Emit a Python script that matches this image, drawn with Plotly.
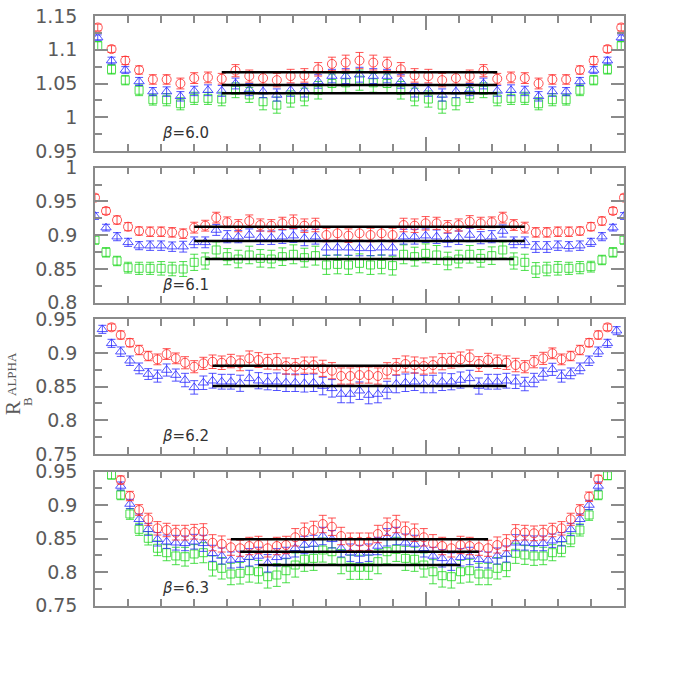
import plotly.graph_objects as go

# ---------------- data ----------------
# panel 1: beta=6.0  (T=48)
T1 = 48
t1 = list(range(0, 39))
p1_red = [1.133,1.101,1.084,1.070,1.056,1.056,1.050,1.058,1.059,1.057,1.069,1.061,1.058,1.055,1.061,1.062,1.071,1.079,1.081,1.084,
          1.081,1.079,1.071,1.062,1.061,1.055,1.058,1.061,1.069,1.057,1.059,1.058,1.050,1.056,1.056,1.070,1.084,1.101,1.133]
p1_red_err = [0.005,0.005,0.006,0.006,0.007,0.007,0.008,0.008,0.008,0.008,0.009,0.009,0.009,0.010,0.010,0.010,0.010,0.010,0.011,0.012,
              0.011,0.010,0.010,0.010,0.010,0.010,0.009,0.009,0.009,0.008,0.008,0.008,0.008,0.007,0.007,0.006,0.006,0.005,0.005]
p1_blue = [1.118,1.084,1.070,1.053,1.038,1.038,1.031,1.039,1.040,1.039,1.050,1.041,1.038,1.033,1.040,1.040,1.053,1.061,1.061,1.063,
           1.061,1.061,1.053,1.040,1.040,1.033,1.038,1.041,1.050,1.039,1.040,1.039,1.031,1.038,1.038,1.053,1.070,1.084,1.118]
p1_blue_err = [0.004,0.005,0.005,0.006,0.006,0.007,0.007,0.007,0.008,0.008,0.008,0.009,0.009,0.009,0.009,0.010,0.010,0.010,0.011,0.011,
               0.011,0.010,0.010,0.010,0.009,0.009,0.009,0.009,0.008,0.008,0.008,0.007,0.007,0.007,0.006,0.006,0.005,0.005,0.004]
p1_green = [1.106,1.071,1.055,1.040,1.026,1.026,1.020,1.028,1.028,1.027,1.040,1.033,1.023,1.018,1.027,1.030,1.040,1.050,1.051,1.055,
            1.051,1.050,1.040,1.030,1.027,1.018,1.023,1.033,1.040,1.027,1.028,1.028,1.020,1.026,1.026,1.040,1.055,1.071,1.106]
p1_green_err = [0.006,0.007,0.007,0.008,0.008,0.009,0.009,0.009,0.009,0.010,0.011,0.011,0.012,0.012,0.012,0.013,0.013,0.014,0.014,0.015,
                0.014,0.014,0.013,0.013,0.012,0.012,0.012,0.011,0.011,0.010,0.009,0.009,0.009,0.009,0.008,0.008,0.007,0.007,0.006]
p1_fit = [1.0666, 1.0478, 1.0355]           # red, blue, green plateau
p1_fit_t = [[9, 29], [9, 29], [9, 29]]

# panel 2: beta=6.1  (T=60)
T2 = 60
t2 = list(range(0, 49))
p2_red = [0.9556,0.9359,0.9225,0.9126,0.9062,0.9052,0.9052,0.9042,0.9023,0.9112,0.9141,0.9260,0.9191,0.9141,0.9210,0.9151,0.9141,
          0.9176,0.9200,0.9141,0.9151,0.9003,0.9028,0.8993,0.9028,0.9003,0.9028,0.9003,0.9151,0.9141,0.9176,0.9176,0.9126,0.9151,
          0.9200,0.9176,0.9191,0.9260,0.9151,0.9112,0.9042,0.9042,0.9052,0.9052,0.9062,0.9126,0.9210,0.9359,0.9556]
p2_red_err = [0.005,0.005,0.006,0.006,0.006,0.007,0.007,0.007,0.007,0.008,0.008,0.008,0.008,0.009,0.009,0.009,0.009,0.009,0.010,
              0.010,0.010,0.010,0.010,0.010,0.010,0.010,0.010,0.010,0.010,0.010,0.010,0.009,0.009,0.009,0.009,0.009,0.008,0.008,
              0.008,0.008,0.007,0.007,0.007,0.007,0.006,0.006,0.006,0.005,0.005]
p2_blue = [0.9284,0.9112,0.8978,0.8894,0.8845,0.8845,0.8845,0.8830,0.8830,0.8894,0.8894,0.9077,0.8978,0.8978,0.9003,0.8963,0.8963,
           0.8978,0.8993,0.8954,0.8978,0.8815,0.8815,0.8815,0.8805,0.8805,0.8815,0.8815,0.8978,0.8978,0.8993,0.8978,0.8929,0.8963,
           0.9003,0.8963,0.8978,0.9062,0.8894,0.8894,0.8825,0.8825,0.8845,0.8835,0.8845,0.8894,0.8978,0.9112,0.9284]
p2_blue_err = [0.005,0.005,0.006,0.006,0.006,0.007,0.007,0.007,0.008,0.008,0.008,0.008,0.009,0.009,0.009,0.010,0.010,0.010,0.010,
               0.011,0.011,0.011,0.011,0.011,0.011,0.011,0.011,0.011,0.011,0.011,0.010,0.010,0.010,0.010,0.010,0.009,0.009,0.009,
               0.008,0.008,0.008,0.008,0.007,0.007,0.007,0.006,0.006,0.005,0.005]
p2_green = [0.8929,0.8746,0.8618,0.8519,0.8509,0.8509,0.8509,0.8499,0.8499,0.8598,0.8618,0.8781,0.8682,0.8647,0.8707,0.8657,0.8647,
            0.8682,0.8717,0.8667,0.8697,0.8559,0.8568,0.8559,0.8583,0.8559,0.8568,0.8549,0.8717,0.8682,0.8731,0.8707,0.8618,0.8647,
            0.8717,0.8657,0.8697,0.8781,0.8618,0.8598,0.8484,0.8499,0.8509,0.8509,0.8519,0.8534,0.8633,0.8746,0.8929]
p2_green_err = [0.006,0.007,0.007,0.008,0.009,0.009,0.010,0.010,0.011,0.012,0.012,0.012,0.012,0.013,0.013,0.013,0.013,0.013,0.014,
                0.014,0.014,0.014,0.014,0.014,0.014,0.014,0.014,0.014,0.014,0.014,0.014,0.014,0.013,0.013,0.013,0.013,0.013,0.012,
                0.012,0.012,0.011,0.010,0.010,0.009,0.009,0.008,0.007,0.007,0.006]
p2_fit = [0.9126, 0.8914, 0.8647]
p2_fit_t = [[9, 39], [9, 39], [10, 38]]

# panel 3: beta=6.2  (T=72)
T3 = 72
t3_red = list(range(2, 57))
t3_blue = list(range(1, 58))
p3_red = [0.9381,0.9267,0.9152,0.9044,0.8955,0.8905,0.8984,0.8920,0.8855,0.8796,0.8846,0.8870,0.8855,0.8880,0.8846,0.8920,0.8895,
          0.8870,0.8870,0.8806,0.8796,0.8820,0.8820,0.8772,0.8737,0.8658,0.8658,0.8672,0.8672,0.8658,0.8736,0.8796,0.8836,0.8821,
          0.8806,0.8821,0.8870,0.8885,0.8905,0.8935,0.8836,0.8895,0.8870,0.8856,0.8821,0.8796,0.8870,0.8920,0.8995,0.8905,0.8955,
          0.9044,0.9152,0.9267,0.9381]
p3_red_err = [0.005,0.006,0.006,0.007,0.007,0.008,0.008,0.008,0.009,0.009,0.009,0.010,0.010,0.010,0.011,0.011,0.011,0.011,0.012,
              0.012,0.012,0.012,0.012,0.012,0.012,0.012,0.012,0.012,0.012,0.012,0.012,0.012,0.012,0.012,0.012,0.012,0.012,0.011,
              0.011,0.011,0.011,0.010,0.010,0.010,0.010,0.009,0.009,0.009,0.008,0.008,0.007,0.007,0.006,0.006,0.005]
p3_blue = [0.9351,0.9143,0.9019,0.8885,0.8771,0.8687,0.8657,0.8747,0.8672,0.8598,0.8489,0.8558,0.8588,0.8573,0.8573,0.8550,0.8623,
           0.8588,0.8573,0.8573,0.8558,0.8558,0.8550,0.8558,0.8509,0.8475,0.8391,0.8390,0.8440,0.8375,0.8390,0.8450,0.8539,0.8558,
           0.8573,0.8539,0.8539,0.8573,0.8573,0.8598,0.8623,0.8509,0.8573,0.8573,0.8588,0.8573,0.8539,0.8598,0.8687,0.8757,0.8657,
           0.8697,0.8771,0.8885,0.9019,0.9143,0.9331]
p3_blue_err = [0.006,0.006,0.007,0.007,0.008,0.008,0.009,0.009,0.009,0.010,0.010,0.010,0.011,0.011,0.011,0.012,0.012,0.012,0.012,
               0.013,0.013,0.013,0.013,0.013,0.013,0.013,0.013,0.013,0.013,0.013,0.013,0.013,0.013,0.013,0.013,0.013,0.013,0.013,
               0.012,0.012,0.012,0.012,0.011,0.011,0.011,0.010,0.010,0.010,0.009,0.009,0.009,0.008,0.008,0.007,0.007,0.006,0.006]
p3_fit = [0.8811, 0.8509]
p3_fit_t = [[13, 45], [13, 45]]

# panel 4: beta=6.3  (T=72)
T4 = 72
t4_red = list(range(3, 56))
t4_blue = list(range(3, 56))
t4_green = list(range(2, 57))
p4_red = [0.9376,0.9137,0.8928,0.8790,0.8655,0.8630,0.8590,0.8590,0.8604,0.8604,0.8440,0.8421,0.8372,0.8357,0.8391,0.8406,0.8357,
          0.8391,0.8406,0.8521,0.8604,0.8630,0.8719,0.8679,0.8540,0.8455,0.8455,0.8455,0.8570,0.8679,0.8719,0.8619,0.8590,0.8521,
          0.8431,0.8391,0.8357,0.8406,0.8391,0.8372,0.8357,0.8406,0.8440,0.8590,0.8590,0.8580,0.8590,0.8630,0.8655,0.8790,0.8928,
          0.9127,0.9387]
p4_red_err = [0.006,0.007,0.008,0.009,0.010,0.010,0.011,0.011,0.011,0.012,0.012,0.012,0.012,0.012,0.013,0.013,0.013,0.013,0.013,
              0.013,0.013,0.013,0.013,0.013,0.013,0.013,0.013,0.013,0.013,0.013,0.013,0.013,0.013,0.013,0.013,0.013,0.013,0.013,
              0.013,0.012,0.012,0.012,0.012,0.012,0.011,0.011,0.011,0.010,0.010,0.009,0.008,0.007,0.006]
p4_blue = [0.9287,0.9018,0.8790,0.8640,0.8491,0.8455,0.8440,0.8431,0.8455,0.8431,0.8282,0.8242,0.8182,0.8193,0.8222,0.8242,0.8133,
           0.8222,0.8242,0.8357,0.8406,0.8421,0.8540,0.8491,0.8357,0.8291,0.8272,0.8291,0.8391,0.8521,0.8540,0.8440,0.8421,0.8357,
           0.8242,0.8207,0.8157,0.8222,0.8242,0.8193,0.8182,0.8242,0.8272,0.8440,0.8440,0.8431,0.8431,0.8470,0.8491,0.8640,0.8790,
           0.9003,0.9287]
p4_blue_err = [0.006,0.007,0.008,0.009,0.010,0.010,0.011,0.011,0.011,0.012,0.012,0.012,0.012,0.012,0.013,0.013,0.013,0.013,0.013,
               0.013,0.013,0.013,0.013,0.013,0.013,0.013,0.013,0.013,0.013,0.013,0.013,0.013,0.013,0.013,0.013,0.013,0.013,0.013,
               0.013,0.012,0.012,0.012,0.012,0.012,0.011,0.011,0.011,0.010,0.010,0.009,0.008,0.007,0.006]
p4_green = [0.9451,0.9152,0.8869,0.8640,0.8506,0.8357,0.8291,0.8242,0.8231,0.8272,0.8291,0.8093,0.8058,0.7973,0.7984,0.8022,0.8007,
            0.7933,0.7958,0.8022,0.8107,0.8193,0.8207,0.8331,0.8306,0.8157,0.8073,0.8073,0.8073,0.8157,0.8306,0.8341,0.8207,0.8193,
            0.8107,0.8007,0.7948,0.7933,0.8007,0.8022,0.7973,0.7973,0.8058,0.8083,0.8282,0.8257,0.8242,0.8242,0.8291,0.8341,0.8481,
            0.8630,0.8854,0.9152,0.9441]
p4_green_err = [0.006,0.007,0.008,0.009,0.010,0.011,0.012,0.013,0.014,0.014,0.015,0.015,0.016,0.016,0.016,0.017,0.017,0.017,0.017,
                0.018,0.018,0.018,0.018,0.018,0.018,0.018,0.018,0.018,0.018,0.018,0.018,0.018,0.018,0.018,0.018,0.018,0.017,0.017,
                0.017,0.017,0.016,0.016,0.016,0.015,0.015,0.014,0.014,0.013,0.012,0.011,0.010,0.009,0.008,0.007,0.006]
p4_fit = [0.8491, 0.8306, 0.8107]
p4_fit_t = [[15, 43], [16, 42], [18, 40]]

# x offset (in time slices) of the plotted points for each panel
t_shift = [0.2, 0.0, -0.2, -0.2]

y_ranges = [(0.95, 1.15), (0.80, 1.00), (0.75, 0.95), (0.75, 0.95)]
beta_labels = ["6.0", "6.1", "6.2", "6.3"]

# ---------------- styling ----------------
RED = "rgba(255,40,40,0.8)"
BLUE = "rgba(40,40,255,0.8)"
GREEN = "rgba(30,215,30,0.8)"
AXC = "#8a8a8a"
TXC = "#5a5a5a"

panels = [
    dict(T=T1, series=[(t1, p1_green, p1_green_err, GREEN, "square-open", 8),
                       (t1, p1_blue, p1_blue_err, BLUE, "triangle-up-open", 9),
                       (t1, p1_red, p1_red_err, RED, "circle-open", 9)],
         fit=p1_fit, fit_t=p1_fit_t),
    dict(T=T2, series=[(t2, p2_green, p2_green_err, GREEN, "square-open", 8),
                       (t2, p2_blue, p2_blue_err, BLUE, "triangle-up-open", 9),
                       (t2, p2_red, p2_red_err, RED, "circle-open", 9)],
         fit=p2_fit, fit_t=p2_fit_t),
    dict(T=T3, series=[(t3_blue, p3_blue, p3_blue_err, BLUE, "triangle-up-open", 9),
                       (t3_red, p3_red, p3_red_err, RED, "circle-open", 9)],
         fit=p3_fit, fit_t=p3_fit_t),
    dict(T=T4, series=[(t4_green, p4_green, p4_green_err, GREEN, "square-open", 8),
                       (t4_blue, p4_blue, p4_blue_err, BLUE, "triangle-up-open", 9),
                       (t4_red, p4_red, p4_red_err, RED, "circle-open", 9)],
         fit=p4_fit, fit_t=p4_fit_t),
]

# page geometry (the page's body margin is removed by the post script, so figure = page)
W = H = 681
PAGE_L, PAGE_R, PAGE_T, PAGE_B = 95, 624, 16, 606       # plot-area edges in pixels
ML, MT, MR, MB = PAGE_L, PAGE_T, W - PAGE_R, H - PAGE_B
PW, PH = W - ML - MR, H - MT - MB
panel_px = [(16, 151), (167.7, 302.7), (319.3, 454), (471.7, 605.7)]


def px2paper_x(px):
    return (px - PAGE_L) / PW


def px2paper_y(py):
    return (PAGE_B - py) / PH


fig = go.Figure()
layout = dict(
    width=W, height=H, margin=dict(l=ML, r=MR, t=MT, b=MB, autoexpand=False),
    paper_bgcolor="white", plot_bgcolor="white", showlegend=False,
    font=dict(family="DejaVu Sans", color=TXC),
)
annotations = []

for k, p in enumerate(panels):
    n = "" if k == 0 else str(k + 1)
    xa, ya = "x" + n, "y" + n
    T = p["T"]
    sh = t_shift[k]
    for (tt, vals, err, col, sym, sz) in p["series"]:
        fig.add_trace(go.Scatter(
            x=[(t + sh) / T for t in tt], y=vals, mode="markers",
            marker=dict(symbol=sym, size=sz, color=col, line=dict(width=1, color=col)),
            error_y=dict(type="data", array=err, visible=True, color=col, thickness=1, width=4),
            xaxis=xa, yaxis=ya, cliponaxis=True, hoverinfo="skip"))
    for v, (ta, tb) in zip(p["fit"], p["fit_t"]):
        fig.add_trace(go.Scatter(
            x=[(ta + sh) / T, (tb + sh) / T], y=[v, v], mode="lines",
            line=dict(color="black", width=2.5), xaxis=xa, yaxis=ya, hoverinfo="skip"))

    top, bot = panel_px[k]
    d0 = max(0.0, px2paper_y(bot))
    d1 = min(1.0, px2paper_y(top))
    lo, hi = y_ranges[k]
    major = [round(lo + 0.05 * j, 3) for j in range(5)]
    minor = [round(lo + 0.025 + 0.05 * j, 4) for j in range(4)]
    layout["xaxis" + n] = dict(
        domain=[0, 1], range=[0, 0.8], anchor=ya, showticklabels=False, automargin=False,
        showgrid=False, zeroline=False, showline=True, linecolor=AXC, linewidth=1.5,
        mirror="allticks", ticks="inside", tickvals=[0.5], ticklen=14, tickcolor=AXC, tickwidth=1.5,
        minor=dict(tickmode="linear", tick0=0, dtick=0.05, ticks="inside", ticklen=7,
                   tickcolor=AXC, tickwidth=1.5, showgrid=False),
    )
    layout["yaxis" + n] = dict(
        domain=[d0, d1], range=[lo - 1e-5, hi + 1e-5], anchor=xa, automargin=False,
        showgrid=False, zeroline=False, showline=True, linecolor=AXC, linewidth=1.5,
        mirror="allticks", ticks="inside", tickvals=major, ticklen=13, tickcolor=AXC, tickwidth=1.5,
        ticklabelstandoff=12, ticklabeloverflow="allow",
        tickfont=dict(family="DejaVu Sans", size=19, color=TXC),
        minor=dict(tickmode="array", tickvals=minor, ticks="inside", ticklen=7,
                   tickcolor=AXC, tickwidth=1.5, showgrid=False),
    )
    annotations.append(dict(
        xref=xa + " domain", yref=ya + " domain", x=px2paper_x(160), y=0.13,
        xanchor="left", yanchor="middle", showarrow=False,
        text="<i>β</i>=" + beta_labels[k],
        font=dict(family="DejaVu Sans", size=15, color="#333333")))

# y-axis title  R_B^ALPHA (rotated)
annotations.append(dict(xref="paper", yref="paper", x=px2paper_x(13), y=px2paper_y(408),
                        text="R", textangle=-90, showarrow=False, xanchor="center", yanchor="middle",
                        font=dict(family="Liberation Serif", size=21, color=TXC)))
annotations.append(dict(xref="paper", yref="paper", x=px2paper_x(11), y=px2paper_y(374),
                        text="ALPHA", textangle=-90, showarrow=False, xanchor="center", yanchor="middle",
                        font=dict(family="Liberation Serif", size=13, color=TXC)))
annotations.append(dict(xref="paper", yref="paper", x=px2paper_x(27), y=px2paper_y(402),
                        text="B", textangle=-90, showarrow=False, xanchor="center", yanchor="middle",
                        font=dict(family="Liberation Serif", size=13, color=TXC)))
layout["annotations"] = annotations
fig.update_layout(**layout)
fig.write_html("out.html", config={"displayModeBar": False},
               post_script="document.body.style.margin='0';")
